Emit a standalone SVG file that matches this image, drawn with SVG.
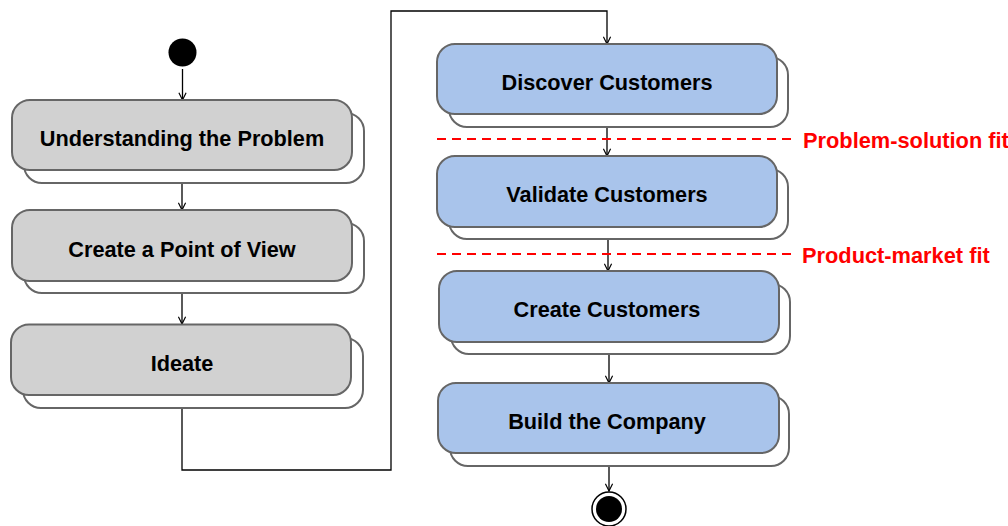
<svg xmlns="http://www.w3.org/2000/svg" width="1008" height="526" viewBox="0 0 1008 526">
  <style>
    .back { fill: #ffffff; stroke: #666666; stroke-width: 2; }
    .grey { fill: #D1D1D1; stroke: #666666; stroke-width: 2; }
    .blue { fill: #A9C4EB; stroke: #666666; stroke-width: 2; }
    .label { font-family: "Liberation Sans", Arial, Helvetica, sans-serif; font-weight: bold; font-size: 21.7px; fill: #000000; text-anchor: middle; }
    .fit { font-family: "Liberation Sans", Arial, Helvetica, sans-serif; font-weight: bold; font-size: 21.8px; fill: #FF0000; }
    .edge { fill: none; stroke: #000000; stroke-width: 1.3; }
    .milestone { fill: none; stroke: #FF0000; stroke-width: 2; stroke-dasharray: 9 6; }
  </style>
  <defs>
    <marker id="arrow" viewBox="0 0 10 10" refX="9" refY="5" markerWidth="9" markerHeight="9" markerUnits="userSpaceOnUse" orient="auto">
      <path d="M1,1 L9,5 L1,9" fill="none" stroke="#000000" stroke-width="1.3"/>
    </marker>
  </defs>

  <rect width="1008" height="526" fill="#ffffff"/>

  <!-- connectors -->
  <g id="connectors">
    <line class="edge" x1="182.5" y1="69" x2="182.5" y2="100" stroke-width="2" marker-end="url(#arrow)"/>
    <line class="edge" x1="182" y1="170" x2="182" y2="210" marker-end="url(#arrow)"/>
    <line class="edge" x1="182" y1="281" x2="182" y2="324" marker-end="url(#arrow)"/>
    <polyline class="edge" points="182,395 182,470 391,470 391,11 607,11 607,44" marker-end="url(#arrow)"/>
    <line class="edge" x1="607" y1="114" x2="607" y2="156" marker-end="url(#arrow)"/>
    <line class="edge" x1="608" y1="227" x2="608" y2="271" marker-end="url(#arrow)"/>
    <line class="edge" x1="609" y1="342" x2="609" y2="383" marker-end="url(#arrow)"/>
    <line class="edge" x1="609" y1="453" x2="609" y2="491" marker-end="url(#arrow)"/>
  </g>

  <!-- milestones -->
  <g id="problem-solution-fit">
    <line class="milestone" x1="437" y1="139" x2="797" y2="139"/>
    <text class="fit" x="803" y="148">Problem-solution fit</text>
  </g>
  <g id="product-market-fit">
    <line class="milestone" x1="437" y1="254" x2="795" y2="254"/>
    <text class="fit" x="802" y="263">Product-market fit</text>
  </g>

  <!-- start -->
  <g id="start">
    <circle cx="182.5" cy="52.5" r="14" fill="#000000"/>
  </g>

  <!-- design thinking steps -->
  <g id="understanding">
    <rect class="back" x="24" y="113" width="340" height="70" rx="18"/>
    <rect class="grey" x="12" y="100" width="340" height="70" rx="18"/>
    <text class="label" x="182" y="146">Understanding the Problem</text>
  </g>
  <g id="point-of-view">
    <rect class="back" x="24" y="223" width="340" height="70" rx="18"/>
    <rect class="grey" x="12" y="210" width="340" height="71" rx="18"/>
    <text class="label" x="182" y="257">Create a Point of View</text>
  </g>
  <g id="ideate">
    <rect class="back" x="23" y="338" width="340" height="70" rx="18"/>
    <rect class="grey" x="11" y="324.5" width="340" height="70.5" rx="18"/>
    <text class="label" x="182" y="371">Ideate</text>
  </g>

  <!-- customer development steps -->
  <g id="discover">
    <rect class="back" x="449" y="57" width="339" height="70" rx="18"/>
    <rect class="blue" x="437" y="44" width="340" height="70" rx="18"/>
    <text class="label" x="607" y="90">Discover Customers</text>
  </g>
  <g id="validate">
    <rect class="back" x="449" y="169" width="339" height="70" rx="18"/>
    <rect class="blue" x="437" y="156" width="340" height="71" rx="18"/>
    <text class="label" x="607" y="202">Validate Customers</text>
  </g>
  <g id="create">
    <rect class="back" x="451" y="284" width="339" height="70" rx="18"/>
    <rect class="blue" x="439" y="271" width="340" height="71" rx="18"/>
    <text class="label" x="607" y="317">Create Customers</text>
  </g>
  <g id="build">
    <rect class="back" x="450" y="396" width="339" height="70" rx="18"/>
    <rect class="blue" x="438" y="383" width="341" height="70" rx="18"/>
    <text class="label" x="607" y="429">Build the Company</text>
  </g>

  <!-- end -->
  <g id="end">
    <circle cx="609" cy="509" r="17" fill="#ffffff" stroke="#000000" stroke-width="1.5"/>
    <circle cx="609" cy="509" r="13" fill="#000000"/>
  </g>
</svg>
